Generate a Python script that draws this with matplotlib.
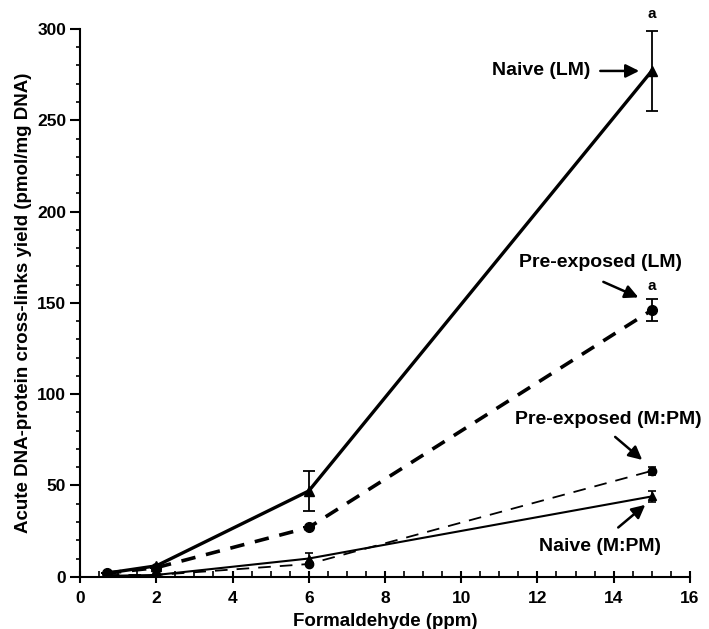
import matplotlib
matplotlib.use("Agg")
import matplotlib.pyplot as plt
from matplotlib.ticker import MultipleLocator

plt.rcParams['font.family'] = ['Liberation Sans', 'DejaVu Sans']
plt.rcParams['font.weight'] = 'bold'

x = [0.7, 2, 6, 15]
naive_lm = [2, 6, 47, 277]
naive_lm_err = [0, 0, 11, 22]
pre_lm = [2, 5, 27, 146]
pre_lm_err = [0, 0, 0, 6]
pre_mpm = [1, 1, 7, 58]
pre_mpm_err = [0, 0, 0, 2]
naive_mpm = [0.5, 1, 10, 44]
naive_mpm_err = [0, 0, 3, 3]

fig = plt.figure(figsize=(7.09, 6.29), dpi=100)
ax = fig.add_axes([0.113, 0.083, 0.86, 0.871])

ax.errorbar(x, naive_lm, yerr=naive_lm_err, color='black', lw=2.4, marker='^', ms=7,
            capsize=4, elinewidth=1.3, capthick=1.3)
ax.errorbar(x, pre_lm, yerr=pre_lm_err, color='black', lw=2.6, ls=(0, (4, 3)), marker='o', ms=7,
            capsize=4, elinewidth=1.3, capthick=1.3)
ax.errorbar(x, pre_mpm, yerr=pre_mpm_err, color='black', lw=1.3, ls=(0, (7, 5)), marker='o', ms=6,
            capsize=3, elinewidth=1.2, capthick=1.2)
ax.errorbar(x, naive_mpm, yerr=naive_mpm_err, color='black', lw=1.5, marker='^', ms=6,
            capsize=3, elinewidth=1.2, capthick=1.2)

ax.set_xlim(0, 16)
ax.set_ylim(0, 300)
ax.xaxis.set_major_locator(MultipleLocator(2))
ax.xaxis.set_minor_locator(MultipleLocator(0.5))
ax.yaxis.set_major_locator(MultipleLocator(50))
ax.yaxis.set_minor_locator(MultipleLocator(10))
for s in ['top', 'right']:
    ax.spines[s].set_visible(False)
for s in ['left', 'bottom']:
    ax.spines[s].set_linewidth(1.5)
ax.tick_params(which='major', width=1.5, labelsize=12.5)
ax.tick_params(axis='x', which='major', direction='inout', length=8, pad=6)
ax.tick_params(axis='x', which='minor', direction='in', length=4, width=1.2)
ax.tick_params(axis='y', which='major', direction='out', length=7, pad=3)
ax.tick_params(axis='y', which='minor', direction='out', length=3, width=1.2)
for lbl in ax.get_xticklabels() + ax.get_yticklabels():
    lbl.set_fontweight('bold')

ax.set_xlabel('Formaldehyde (ppm)', fontsize=13.5, fontweight='bold', labelpad=5)
ax.set_ylabel('Acute DNA-protein cross-links yield (pmol/mg DNA)', fontsize=13.5, fontweight='bold', labelpad=4)

ap = dict(arrowstyle='-|>', color='black', lw=1.8, mutation_scale=20, shrinkA=0, shrinkB=0)
tk = dict(fontsize=14, fontweight='bold', ha='center', va='center')

ax.text(12.1, 277, 'Naive (LM)', **tk)
ax.annotate('', xy=(14.67, 277), xytext=(13.65, 277), arrowprops=ap)
ax.text(13.65, 172, 'Pre-exposed (LM)', **tk)
ax.annotate('', xy=(14.65, 153), xytext=(13.73, 161.5), arrowprops=ap)
ax.text(13.86, 86, 'Pre-exposed (M:PM)', **tk)
ax.annotate('', xy=(14.75, 64), xytext=(14.04, 76.6), arrowprops=ap)
ax.text(13.65, 16.4, 'Naive (M:PM)', **tk)
ax.annotate('', xy=(14.83, 39.4), xytext=(14.12, 27), arrowprops=ap)

ax.text(15, 308, 'a', fontsize=11, fontweight='bold', ha='center', va='center', clip_on=False)
ax.text(15, 159, 'a', fontsize=11, fontweight='bold', ha='center', va='center')

fig.savefig('out.png', dpi=100)
